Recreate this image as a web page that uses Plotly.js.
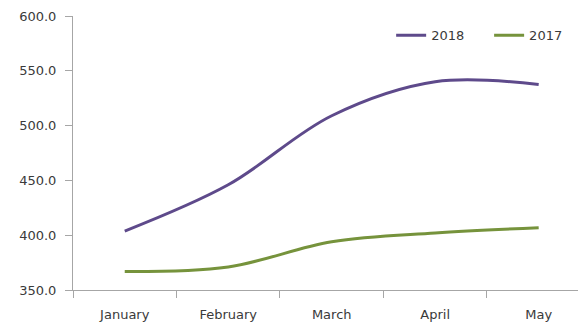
<!DOCTYPE html>
<html>
<head>
<meta charset="utf-8">
<script src="https://cdn.plot.ly/plotly-3.0.1.min.js"></script>
<style>
html,body{margin:0;padding:0;background:#fff;overflow:hidden;}
#chart{width:579px;height:322px;}
</style>
</head>
<body>
<div id="chart"></div>
<script>
var months = ["January", "February", "March", "April", "May"];
var values2018 = [403.8, 446, 509, 540, 537.5];
var values2017 = [366.8, 371, 394, 402, 406.8];
var yTicks = [350, 400, 450, 500, 550, 600];

var traces = [
  {x: months, y: values2018, name: "2018", type: "scatter", mode: "lines", legend: "legend",
   line: {color: "#5e4a8b", width: 3, shape: "spline", smoothing: 1}},
  {x: months, y: values2017, name: "2017", type: "scatter", mode: "lines", legend: "legend2",
   line: {color: "#76933c", width: 3, shape: "spline", smoothing: 1}}
];

var legendStyle = function (xpos) {
  return {orientation: "h", x: xpos, xanchor: "left", y: 0.93, yanchor: "middle",
          font: {size: 13, color: "#3a3a3a"}, bgcolor: "rgba(0,0,0,0)"};
};

var layout = {
  width: 579, height: 322,
  margin: {l: 73, r: 1, t: 16, b: 32},
  paper_bgcolor: "#ffffff", plot_bgcolor: "#ffffff",
  font: {family: "DejaVu Sans, Verdana, sans-serif", size: 13, color: "#3a3a3a"},
  showlegend: true,
  legend: legendStyle(0.63),
  legend2: legendStyle(0.824),
  xaxis: {type: "category", range: [-0.5, 4.38], showline: true, linecolor: "#a6a6a6", linewidth: 1,
          ticks: "outside", tickson: "boundaries", ticklen: 7, tickcolor: "#a6a6a6",
          showgrid: false, zeroline: false, ticklabelstandoff: 12, fixedrange: true},
  yaxis: {range: [350, 600], tickvals: yTicks, tickformat: ".1f", showline: true,
          linecolor: "#a6a6a6", linewidth: 1, ticks: "outside", ticklen: 7, tickcolor: "#a6a6a6",
          showgrid: false, zeroline: false, ticklabelstandoff: 6, fixedrange: true}
};

Plotly.newPlot("chart", traces, layout, {staticPlot: true, displayModeBar: false});
</script>
</body>
</html>
